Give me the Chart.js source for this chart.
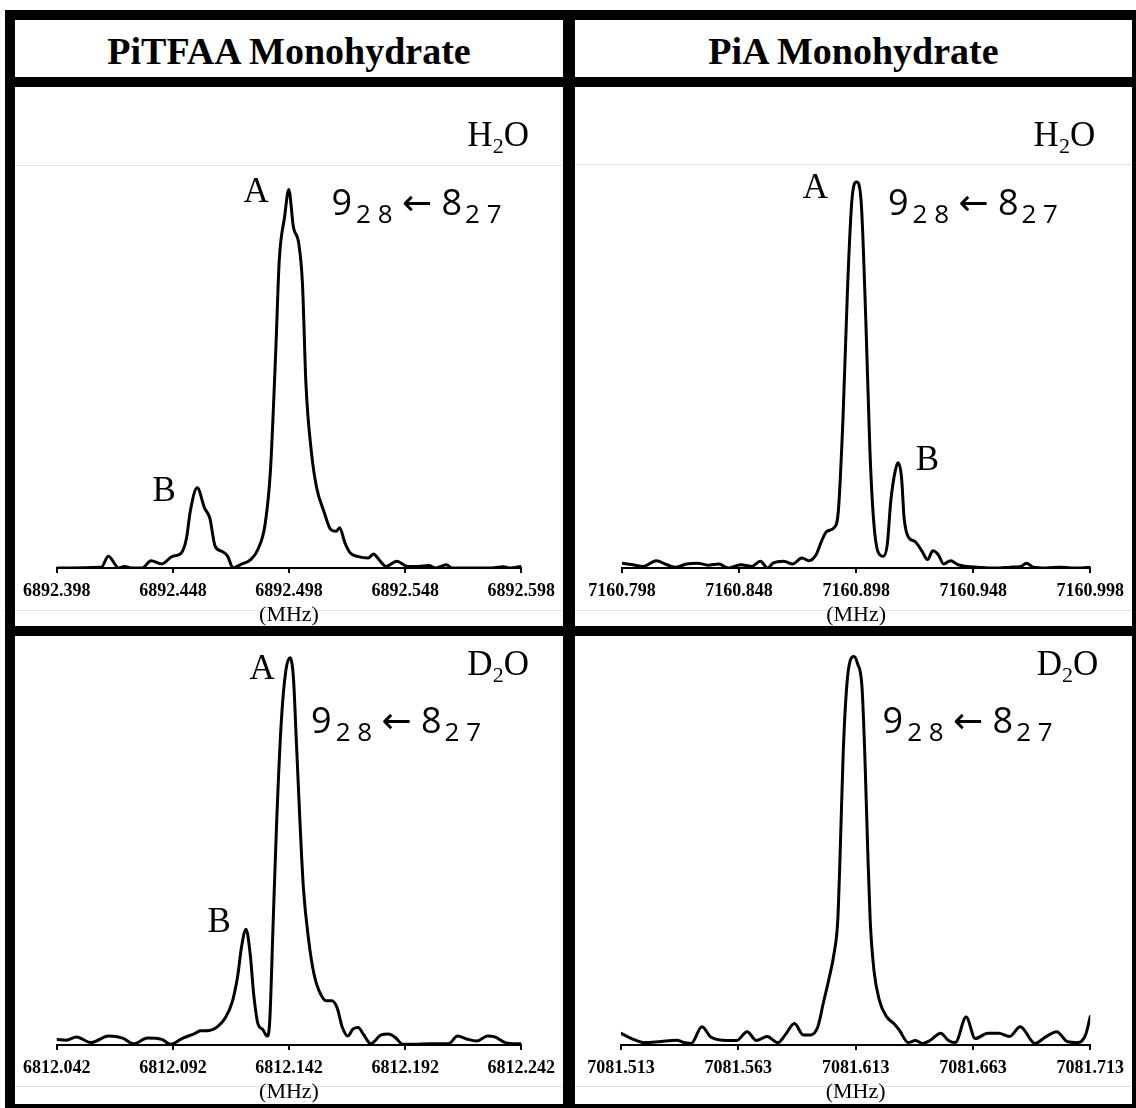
<!DOCTYPE html>
<html>
<head>
<meta charset="utf-8">
<script src="https://cdn.jsdelivr.net/npm/chart.js@4.4.1/dist/chart.umd.min.js"></script>
<style>
    html, body { margin: 0; padding: 0; background: #fff; }
    #page { position: relative; width: 1136px; height: 1108px; overflow: hidden; background: #fff; }
    .bar { position: absolute; background: #000; z-index: 5; }
    .hair { position: absolute; height: 1px; background: #e3e3e3; }
    .head { position: absolute; top: 29px; height: 57px; line-height: 57px; text-align: center;
            font: bold 38px "Liberation Serif", serif; color: #000; z-index: 6; }
    canvas { position: absolute; }
</style>
</head>
<body>
<div id="page">
    <div class="hair" style="left:15px; width:548px; top:165px"></div>
    <div class="hair" style="left:575px; width:557px; top:164px"></div>
    <div class="hair" style="left:3px; width:560px; top:610px"></div>
    <div class="hair" style="left:575px; width:557px; top:610px"></div>
    <div class="hair" style="left:15px; width:548px; top:1086px"></div>
    <div class="hair" style="left:575px; width:557px; top:1086px"></div>

    <div class="head" style="left:15px; width:548px">PiTFAA Monohydrate</div>
    <div class="head" style="left:575px; width:557px">PiA Monohydrate</div>

    <canvas id="c-tl" width="548" height="545" style="left:15px; top:87px"></canvas>
    <canvas id="c-tr" width="557" height="545" style="left:575px; top:87px"></canvas>
    <canvas id="c-bl" width="548" height="472" style="left:15px; top:636px"></canvas>
    <canvas id="c-br" width="557" height="472" style="left:575px; top:636px"></canvas>

    <div class="bar" style="left:5px; top:10px; width:1131px; height:10px"></div>
    <div class="bar" style="left:5px; top:10px; width:10px; height:1098px"></div>
    <div class="bar" style="left:1132px; top:10px; width:4px; height:1098px"></div>
    <div class="bar" style="left:5px; top:1104px; width:1131px; height:4px"></div>
    <div class="bar" style="left:5px; top:77px; width:1131px; height:10px"></div>
    <div class="bar" style="left:5px; top:626px; width:1131px; height:10px"></div>
    <div class="bar" style="left:563px; top:10px; width:12px; height:1098px"></div>
</div>

<script>
//======================================================================================================================
// Spectra (frequency in MHz, intensity in % of panel height)
//======================================================================================================================

var tlTicks = [6892.398, 6892.448, 6892.498, 6892.548, 6892.598];
var tlFreq = [6892.3980, 6892.4172, 6892.4202, 6892.4248, 6892.4271, 6892.4302, 6892.4348, 6892.4386, 6892.4432, 6892.4478,
    6892.4516, 6892.4539, 6892.4555, 6892.4585, 6892.4616, 6892.4639, 6892.4662, 6892.4693, 6892.4716, 6892.4739,
    6892.4769, 6892.4815, 6892.4846, 6892.4877, 6892.4900, 6892.4923, 6892.4938, 6892.4961, 6892.4979, 6892.4999,
    6892.5022, 6892.5038, 6892.5053, 6892.5076, 6892.5099, 6892.5130, 6892.5160, 6892.5183, 6892.5198, 6892.5221,
    6892.5244, 6892.5275, 6892.5321, 6892.5344, 6892.5367, 6892.5398, 6892.5444, 6892.5490, 6892.5536, 6892.5582,
    6892.5612, 6892.5658, 6892.5681, 6892.5720, 6892.5781, 6892.5842, 6892.5903, 6892.5934, 6892.5980];
var tlInt = [0.0, 0.2, 2.9, 0.0, 0.4, 0.0, 0.0, 1.8, 1.0, 2.9,
    3.7, 7.5, 14.1, 19.9, 14.9, 12.4, 5.4, 4.1, 2.9, 0.0,
    0.8, 2.1, 4.6, 10.8, 24.1, 53.9, 76.3, 87.1, 93.9, 84.6,
    80.5, 70.5, 45.6, 29.0, 19.9, 14.1, 9.5, 9.1, 10.0, 6.2,
    3.7, 2.9, 2.5, 3.5, 2.1, 0.4, 1.7, 0.4, 0.4, 0.6,
    0.0, 0.8, 0.0, 0.0, 0.0, 0.0, 0.3, 0.0, 0.4];

var trTicks = [7160.798, 7160.848, 7160.898, 7160.948, 7160.998];
var trFreq = [7160.7980, 7160.8026, 7160.8072, 7160.8126, 7160.8172, 7160.8210, 7160.8256, 7160.8302, 7160.8348, 7160.8394,
    7160.8433, 7160.8487, 7160.8533, 7160.8571, 7160.8602, 7160.8625, 7160.8671, 7160.8709, 7160.8748, 7160.8778,
    7160.8809, 7160.8832, 7160.8855, 7160.8886, 7160.8904, 7160.8924, 7160.8944, 7160.8962, 7160.8982, 7160.9001,
    7160.9021, 7160.9039, 7160.9054, 7160.9073, 7160.9096, 7160.9113, 7160.9128, 7160.9147, 7160.9159, 7160.9174,
    7160.9185, 7160.9205, 7160.9231, 7160.9262, 7160.9285, 7160.9308, 7160.9331, 7160.9354, 7160.9384, 7160.9415,
    7160.9454, 7160.9500, 7160.9546, 7160.9592, 7160.9638, 7160.9684, 7160.9707, 7160.9737, 7160.9791, 7160.9853,
    7160.9899, 7160.9945, 7160.9980];
var trInt = [1.2, 0.8, 0.4, 1.8, 0.8, 0.2, 1.0, 1.2, 0.7, 1.0,
    0.0, 0.8, 0.4, 1.7, 0.0, 1.2, 1.7, 1.0, 2.5, 1.8,
    3.3, 6.6, 9.1, 10.0, 14.1, 37.3, 70.5, 91.3, 95.8, 91.3,
    62.2, 29.0, 12.4, 4.1, 2.9, 5.8, 16.6, 24.1, 26.1, 22.4,
    12.4, 7.5, 6.6, 4.1, 2.1, 4.3, 3.3, 1.0, 1.8, 0.8,
    0.4, 0.2, 0.0, 0.0, 0.2, 0.4, 1.2, 0.2, 0.0, 0.2,
    0.0, 0.0, 0.2];

var blTicks = [6812.042, 6812.092, 6812.142, 6812.192, 6812.242];
var blFreq = [6812.0420, 6812.0460, 6812.0505, 6812.0567, 6812.0643, 6812.0704, 6812.0750, 6812.0811, 6812.0872, 6812.0910,
    6812.0963, 6812.1009, 6812.1039, 6812.1078, 6812.1116, 6812.1146, 6812.1177, 6812.1200, 6812.1215, 6812.1235,
    6812.1253, 6812.1268, 6812.1287, 6812.1306, 6812.1326, 6812.1337, 6812.1352, 6812.1367, 6812.1387, 6812.1406,
    6812.1424, 6812.1439, 6812.1451, 6812.1467, 6812.1482, 6812.1505, 6812.1528, 6812.1550, 6812.1581, 6812.1604,
    6812.1627, 6812.1650, 6812.1673, 6812.1695, 6812.1718, 6812.1741, 6812.1772, 6812.1817, 6812.1848, 6812.1879,
    6812.1909, 6812.1955, 6812.2031, 6812.2107, 6812.2146, 6812.2184, 6812.2229, 6812.2275, 6812.2306, 6812.2351,
    6812.2397, 6812.2420];
var blInt = [1.4, 1.2, 2.0, 0.6, 2.2, 1.7, 0.3, 1.7, 1.4, 0.2,
    1.7, 2.7, 3.5, 3.6, 4.7, 6.7, 10.9, 17.4, 24.0, 28.6,
    22.4, 12.5, 5.1, 3.9, 2.2, 5.9, 30.6, 55.3, 80.0, 92.3,
    95.6, 90.7, 75.9, 55.3, 38.8, 25.7, 17.4, 13.3, 10.9, 10.9,
    9.2, 4.3, 2.2, 3.9, 4.3, 2.6, 0.3, 2.5, 2.7, 1.8,
    0.2, 0.2, 0.3, 0.3, 2.2, 1.5, 1.0, 2.2, 2.0, 0.6,
    0.3, 0.3];

var brTicks = [7081.513, 7081.563, 7081.613, 7081.663, 7081.713];
var brFreq = [7081.5130, 7081.5175, 7081.5229, 7081.5290, 7081.5368, 7081.5398, 7081.5429, 7081.5475, 7081.5514, 7081.5583,
    7081.5622, 7081.5668, 7081.5707, 7081.5753, 7081.5799, 7081.5830, 7081.5869, 7081.5907, 7081.5938, 7081.5969,
    7081.5992, 7081.6015, 7081.6038, 7081.6054, 7081.6064, 7081.6077, 7081.6092, 7081.6108, 7081.6123, 7081.6138,
    7081.6157, 7081.6169, 7081.6182, 7081.6192, 7081.6208, 7081.6231, 7081.6262, 7081.6293, 7081.6316, 7081.6354,
    7081.6385, 7081.6416, 7081.6447, 7081.6493, 7081.6524, 7081.6555, 7081.6601, 7081.6640, 7081.6694, 7081.6740,
    7081.6786, 7081.6832, 7081.6894, 7081.6940, 7081.6987, 7081.7033, 7081.7079, 7081.7110, 7081.7130];
var brInt = [2.9, 1.6, 0.6, 0.8, 1.2, 0.6, 0.4, 4.5, 1.9, 1.1,
    1.1, 3.3, 1.1, 2.1, 0.6, 2.5, 5.3, 2.5, 2.5, 4.5,
    10.3, 16.0, 22.6, 30.9, 47.3, 72.0, 88.5, 95.1, 95.9, 94.2,
    88.5, 72.0, 47.3, 30.9, 18.5, 11.1, 7.0, 5.3, 3.7, 0.6,
    1.1, 0.4, 1.1, 2.9, 1.2, 0.6, 6.9, 1.6, 2.9, 2.9,
    2.1, 4.5, 0.4, 2.0, 3.3, 0.8, 0.6, 2.5, 7.0];

//======================================================================================================================
// Text labels (placed in data units)
//======================================================================================================================

var SERIF = '"Liberation Serif", serif';
var SANS = '"Open Sans", "DejaVu Sans", sans-serif';

function water(letter) {
    return [[letter, '35px ' + SERIF, 0, 0], ['2', '22px ' + SERIF, 7, 0], ['O', '35px ' + SERIF, 0, 0]];
}

var transition = [['9', '36px ' + SANS, 0, 4], ['2 8', '26px ' + SANS, 8, 0], [' \u2190 ', '36px ' + SANS, 0, 0],
    ['8', '36px ' + SANS, 0, 3], ['2 7', '26px ' + SANS, 8, 0]];

function peak(letter) {
    return [[letter, '35px ' + SERIF, 0, 0]];
}

var notes = {
    'c-tl': [
        { x: 6892.4839, y: 90.8, align: 'center', parts: peak('A') },
        { x: 6892.4443, y: 16.6, align: 'center', parts: peak('B') },
        { x: 6892.6013, y: 104.7, align: 'right', parts: water('H') },
        { x: 6892.5163, y: 87.6, align: 'left', parts: transition }
    ],
    'c-tr': [
        { x: 7160.8806, y: 91.8, align: 'center', parts: peak('A') },
        { x: 7160.9285, y: 24.3, align: 'center', parts: peak('B') },
        { x: 7161.0001, y: 104.7, align: 'right', parts: water('H') },
        { x: 7160.9116, y: 87.6, align: 'left', parts: transition }
    ],
    'c-bl': [
        { x: 6812.1304, y: 90.4, align: 'center', parts: peak('A') },
        { x: 6812.1119, y: 27.9, align: 'center', parts: peak('B') },
        { x: 6812.2453, y: 91.4, align: 'right', parts: water('D') },
        { x: 6812.1515, y: 77.0, align: 'left', parts: transition }
    ],
    'c-br': [
        { x: 7081.7164, y: 91.4, align: 'right', parts: water('D') },
        { x: 7081.6245, y: 77.0, align: 'left', parts: transition }
    ]
};

var notesPlugin = {
    id: 'notes',
    afterDatasetsDraw: function(chart) {
        var ctx = chart.ctx;
        var list = notes[chart.canvas.id] || [];
        ctx.save();
        ctx.fillStyle = '#000';
        ctx.textBaseline = 'alphabetic';
        ctx.textAlign = 'left';
        list.forEach(function(item) {
            var px = chart.scales.x.getPixelForValue(item.x);
            var py = chart.scales.y.getPixelForValue(item.y);
            var total = 0;
            item.parts.forEach(function(p) {
                ctx.font = p[1];
                total += ctx.measureText(p[0]).width + p[3];
            });
            var cx = item.align === 'right' ? px - total : (item.align === 'center' ? px - total / 2 : px);
            item.parts.forEach(function(p) {
                ctx.font = p[1];
                ctx.fillText(p[0], cx, py + p[2]);
                cx += ctx.measureText(p[0]).width + p[3];
            });
        });
        ctx.restore();
    }
};

//======================================================================================================================
// Panels
//======================================================================================================================

function spectrum(id, freq, inten, ticks, pad) {
    return new Chart(document.getElementById(id), {
        type: 'line',
        data: {
            datasets: [{
                data: freq.map(function(f, i) { return { x: f, y: inten[i] }; }),
                borderColor: '#000',
                borderWidth: 3,
                borderJoinStyle: 'round',
                borderCapStyle: 'round',
                pointRadius: 0,
                cubicInterpolationMode: 'monotone',
                fill: false
            }]
        },
        options: {
            responsive: false,
            animation: false,
            events: [],
            layout: { padding: pad },
            plugins: {
                legend: { display: false },
                tooltip: { enabled: false }
            },
            scales: {
                x: {
                    type: 'linear',
                    min: ticks[0],
                    max: ticks[ticks.length - 1],
                    afterBuildTicks: function(scale) {
                        scale.ticks = ticks.map(function(v) { return { value: v }; });
                    },
                    afterFit: function(scale) {
                        scale.height = 60;
                    },
                    border: { display: true, color: '#000', width: 2 },
                    grid: { drawOnChartArea: false, drawTicks: true, tickLength: 5, color: '#000', lineWidth: 2 },
                    ticks: {
                        autoSkip: false,
                        maxRotation: 0,
                        padding: 8,
                        color: '#000',
                        font: { family: 'Liberation Serif', size: 18, weight: 'bold' },
                        callback: function(value) { return Number(value).toFixed(3); }
                    },
                    title: {
                        display: true,
                        text: '(MHz)',
                        color: '#000',
                        padding: 0,
                        font: { family: 'Liberation Serif', size: 22 }
                    }
                },
                y: { display: false, min: 0, max: 100 }
            }
        },
        plugins: [notesPlugin]
    });
}

spectrum('c-tl', tlFreq, tlInt, tlTicks, { left: 37, right: 36, top: 78, bottom: 4 });
spectrum('c-tr', trFreq, trInt, trTicks, { left: 47, right: 38, top: 78, bottom: 4 });
spectrum('c-bl', blFreq, blInt, blTicks, { left: 37, right: 36, top: 4, bottom: 3 });
spectrum('c-br', brFreq, brInt, brTicks, { left: 46, right: 41, top: 4, bottom: 3 });
</script>
</body>
</html>
